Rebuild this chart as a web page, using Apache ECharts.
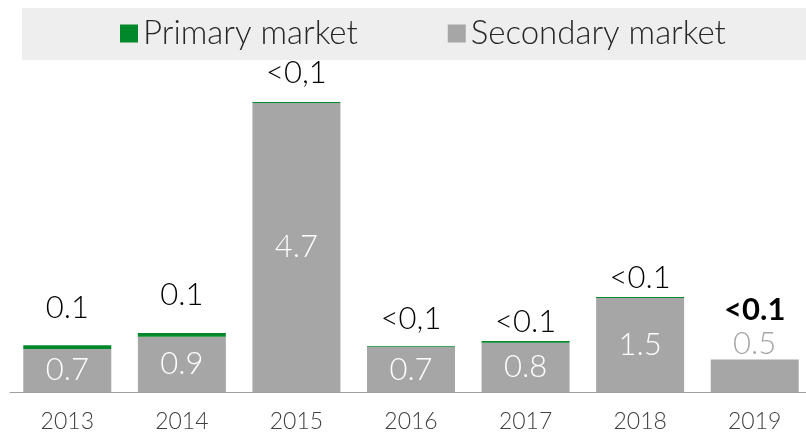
<!DOCTYPE html>
<html>
<head>
<meta charset="utf-8">
<script src="https://cdn.jsdelivr.net/npm/echarts@6/dist/echarts.min.js"></script>
<style>
  html, body { margin: 0; padding: 0; background: #fff; overflow: hidden; }
  #chart { width: 812px; height: 436px; }
</style>
</head>
<body>
<div id="chart"></div>
<script>
// chart data
const years = ['2013', '2014', '2015', '2016', '2017', '2018', '2019']
const secondary = [0.7, 0.9, 4.7, 0.73, 0.8, 1.53, 0.53]
const primary = [0.06, 0.06, 0.015, 0.015, 0.03, 0.015, 0]
const secondaryLabels = ['0.7', '0.9', '4.7', '0.7', '0.8', '1.5', '0.5']
const primaryLabels = ['0.1', '0.1', '<0,1', '<0,1', '<0.1', '<0.1', '<0.1']

const GRAY = '#A6A6A6'
const GREEN = '#00882B'
const FONT = 'Lato'

// label gap above each stack (px)
const topGap = [22, 22, 14, 12, 3, 3, 34]

const chart = echarts.init(document.getElementById('chart'))

const option = {
  animation: false,
  graphic: [{
    type: 'rect',
    shape: { x: 22, y: 8, width: 790, height: 52 },
    style: { fill: '#EEEEEE' },
    z: -1
  }],
  legend: {
    data: ['Primary market', 'Secondary market'],
    left: 115,
    top: 12,
    icon: 'rect',
    itemWidth: 18,
    itemHeight: 18,
    itemGap: 90,
    textStyle: { fontFamily: FONT, fontWeight: 300, fontSize: 33, color: '#262626' }
  },
  grid: { left: 10, right: 0, top: 84.5, bottom: 44, outerBoundsMode: 'none' },
  xAxis: {
    type: 'category',
    data: years,
    axisLine: { lineStyle: { color: '#A0A0A0', width: 1 } },
    axisTick: { length: 6, lineStyle: { color: '#A0A0A0' } },
    axisLabel: { fontFamily: FONT, fontWeight: 300, fontSize: 23, color: '#404040', margin: 18 }
  },
  yAxis: { type: 'value', min: 0, max: 5, show: false },
  series: [
    {
      name: 'Secondary market',
      type: 'bar',
      stack: 'total',
      barWidth: 88,
      itemStyle: { color: GRAY },
      data: secondary.map((v, i) => ({
        value: v,
        label: i === 6
          ? { position: 'top', color: GRAY, distance: 0 }
          : {}
      })),
      label: {
        show: true,
        position: 'inside',
        color: '#fff',
        fontFamily: FONT,
        fontWeight: 300,
        fontSize: 31,
        formatter: p => secondaryLabels[p.dataIndex]
      }
    },
    {
      name: 'Primary market',
      type: 'bar',
      stack: 'total',
      barWidth: 88,
      itemStyle: { color: GREEN },
      data: primary.map((v, i) => ({
        value: v,
        label: i === 6
          ? { distance: topGap[i], fontWeight: 'bold' }
          : { distance: topGap[i] }
      })),
      label: {
        show: true,
        position: 'top',
        color: '#000',
        fontFamily: FONT,
        fontWeight: 300,
        fontSize: 31,
        formatter: p => primaryLabels[p.dataIndex]
      }
    }
  ]
}

chart.setOption(option)
</script>
</body>
</html>
